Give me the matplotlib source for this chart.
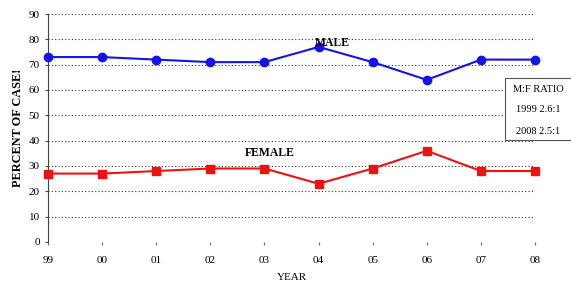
import matplotlib.pyplot as plt
from matplotlib.patches import Rectangle

years = ['99', '00', '01', '02', '03', '04', '05', '06', '07', '08']
male = [73, 73, 72, 71, 71, 77, 71, 64, 72, 72]
female = [27, 27, 28, 29, 29, 23, 29, 36, 28, 28]
ratio_lines = ['M:F RATIO', '1999 2.6:1', '2008 2.5:1']

plt.rcParams['font.family'] = 'Liberation Serif'

fig = plt.figure(figsize=(5.71, 2.86), dpi=100)
ax = fig.add_axes([0.084, 0.154, 0.853, 0.797])
x = list(range(len(years)))
ax.plot(x, male, color='#1414e6', lw=1.5, marker='o', ms=6, clip_on=False, zorder=3)
ax.plot(x, female, color='#ee1111', lw=1.5, marker='s', ms=6, clip_on=False, zorder=3)

ax.set_xlim(0, 9)
ax.set_ylim(0, 90)
ax.set_yticks(range(0, 91, 10))
ax.set_xticks(x)
ax.set_xticklabels(years)
for yv in range(10, 91, 10):
    ax.axhline(yv, color='#333333', lw=0.8, ls=(0, (1, 2)), zorder=1)
for s in ['top', 'right', 'bottom']:
    ax.spines[s].set_visible(False)
ax.spines['left'].set_color('#444444')
ax.tick_params(axis='x', length=2, width=0.8, pad=8, labelsize=8, color='#666666')
ax.tick_params(axis='y', length=2, width=0.8, pad=4, labelsize=8, color='#444444')

ax.text(5.25, 78.5, 'MALE', fontsize=8.5, fontweight='bold', ha='center', va='center', zorder=4)
ax.text(4.1, 35.2, 'FEMALE', fontsize=8.5, fontweight='bold', ha='center', va='center')
ax.set_xlabel('YEAR', fontsize=8, labelpad=6)
ax.set_ylabel('PERCENT OF CASE!', fontsize=8.8, fontweight='bold', labelpad=3)

fig.patches.append(Rectangle((505 / 571, 1 - 140 / 286), 70 / 571, 62 / 286,
                             transform=fig.transFigure, fc='white', ec='#555555', lw=0.8))
for i, t in enumerate(ratio_lines):
    fig.text(538 / 571, 1 - (89 + 21 * i) / 286, t, fontsize=7.5, ha='center', va='center')

fig.savefig('out.png', dpi=100)
